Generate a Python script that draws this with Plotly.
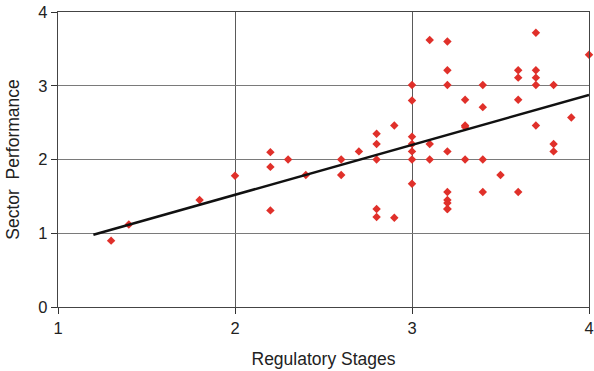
import plotly.graph_objects as go

# Scatter data: Regulatory Stages (x) vs Sector Performance (y)
stages = [1.3, 1.4, 1.8, 2.0, 2.2, 2.2, 2.2, 2.3, 2.4, 2.6, 2.6, 2.7,
          2.8, 2.8, 2.8, 2.8, 2.8, 2.9, 2.9,
          3.0, 3.0, 3.0, 3.0, 3.0, 3.0, 3.0,
          3.1, 3.1, 3.1,
          3.2, 3.2, 3.2, 3.2, 3.2, 3.2, 3.2, 3.2, 3.2,
          3.3, 3.3, 3.3, 3.3,
          3.4, 3.4, 3.4, 3.4,
          3.5,
          3.6, 3.6, 3.6, 3.6,
          3.7, 3.7, 3.7, 3.7, 3.7,
          3.8, 3.8, 3.8,
          3.9, 4.0]
performance = [0.90, 1.12, 1.45, 1.78, 2.10, 1.90, 1.31, 2.00, 1.79, 2.00, 1.79, 2.11,
               2.35, 2.21, 2.00, 1.33, 1.22, 2.46, 1.21,
               3.01, 2.80, 2.31, 2.21, 2.11, 2.00, 1.67,
               3.62, 2.21, 2.00,
               3.60, 3.21, 3.01, 2.11, 1.56, 1.45, 1.41, 1.33, 1.33,
               2.81, 2.46, 2.44, 2.00,
               3.01, 2.71, 2.00, 1.56,
               1.79,
               3.21, 3.11, 2.81, 1.56,
               3.72, 3.21, 3.11, 3.01, 2.46,
               3.01, 2.21, 2.11,
               2.57, 3.42]

# Linear trend line end points
trend_x = [1.2, 4.0]
trend_y = [0.98, 2.875]

x_ticks = [1, 2, 3, 4]
y_ticks = [0, 1, 2, 3, 4]

fig = go.Figure()
fig.add_trace(go.Scatter(
    x=stages, y=performance, mode="markers",
    marker=dict(symbol="diamond", size=6.5, color="#e0302a", line=dict(width=0)),
    showlegend=False, cliponaxis=False,
))
fig.add_trace(go.Scatter(
    x=trend_x, y=trend_y, mode="lines",
    line=dict(color="#111111", width=2.5),
    showlegend=False,
))

font_family = "Liberation Sans, Arial, sans-serif"
fig.update_layout(
    width=594, height=371,
    margin=dict(l=58, r=5, t=12, b=64),
    paper_bgcolor="white", plot_bgcolor="white",
    font=dict(family=font_family, size=16, color="#222222"),
)
fig.update_xaxes(
    range=[1, 4], tickvals=x_ticks, ticktext=[str(v) for v in x_ticks],
    showgrid=True, gridcolor="#5a5a5a", gridwidth=1.3,
    showline=True, linecolor="#444444", linewidth=1.4, mirror=True,
    ticks="outside", ticklen=6, tickcolor="#333333", tickwidth=1.3,
    zeroline=False, ticklabeloverflow="allow", automargin=False,
    tickfont=dict(size=16.5),
    title=dict(text="Regulatory Stages", font=dict(size=17.5), standoff=16),
)
fig.update_yaxes(
    range=[0, 4], tickvals=y_ticks, ticktext=[str(v) for v in y_ticks],
    showgrid=True, gridcolor="#7a7a7a", gridwidth=1.3,
    showline=True, linecolor="#444444", linewidth=1.4, mirror=True,
    ticks="outside", ticklen=6, tickcolor="#333333", tickwidth=1.3,
    zeroline=False, ticklabeloverflow="allow", automargin=False,
    tickfont=dict(size=16.5),
    title=dict(text="Sector\u00a0\u00a0Performance", font=dict(size=17.5), standoff=14),
)

fig.write_html("out.html")
